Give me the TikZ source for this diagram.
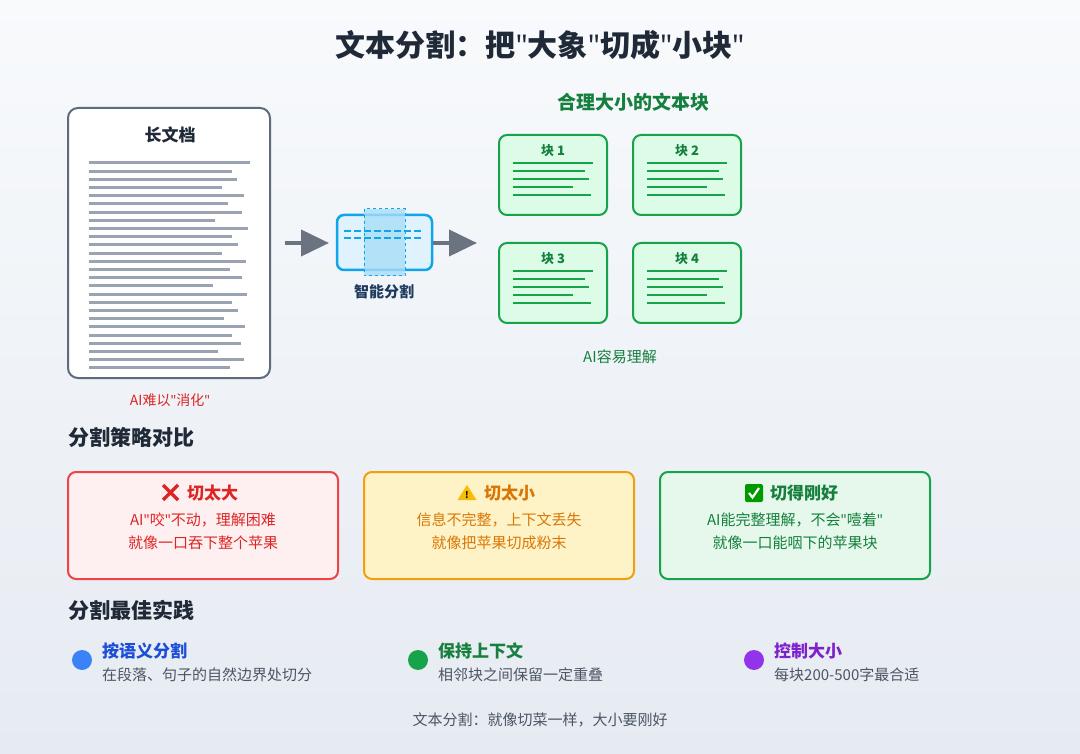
\documentclass[tikz,border=0pt]{standalone}
\usepackage{fontspec}
\setmainfont{Noto Sans CJK SC}
\newfontfamily\latin{Noto Sans}
\newcommand{\qq}{{\latin"}}
\usetikzlibrary{arrows.meta}
\definecolor{bgA}{HTML}{F8FAFC}\definecolor{bgB}{HTML}{E6EBF2}
\definecolor{docg}{HTML}{5F6B7D}\definecolor{lineg}{HTML}{9AA3B2}
\definecolor{arr}{HTML}{6B7280}\definecolor{sky}{HTML}{0EA5E9}
\definecolor{skyl}{HTML}{E0F2FE}\definecolor{skym}{HTML}{A8DDF7}
\definecolor{navy}{HTML}{1E3A5F}\definecolor{gr}{HTML}{16A34A}
\definecolor{grd}{HTML}{15803D}\definecolor{grl}{HTML}{DCFCE7}
\definecolor{rd}{HTML}{EF4444}\definecolor{rdl}{HTML}{FEF0F0}\definecolor{rdt}{HTML}{DC2626}
\definecolor{orr}{HTML}{F59E0B}\definecolor{orl}{HTML}{FEF3C7}\definecolor{ort}{HTML}{D97706}
\definecolor{grc}{HTML}{E6F8EC}
\definecolor{ttl}{HTML}{1F2937}\definecolor{sub}{HTML}{4B5563}
\definecolor{blu}{HTML}{3B82F6}\definecolor{blt}{HTML}{1D4ED8}
\definecolor{pur}{HTML}{9333EA}\definecolor{put}{HTML}{7E22CE}
\tikzset{
 t/.style={inner sep=0pt,font=\fontsize{#1}{#1}\selectfont},
 blk/.style={draw=gr,fill=grl,line width=2pt,rounded corners=8pt},
 card/.style={line width=2pt,rounded corners=8pt},
 gl/.style={gr,line width=2pt},
 dl/.style={lineg,line width=3pt},
}
\begin{document}
\begin{tikzpicture}[x=1pt,y=-1pt]
\shade[top color=bgA,bottom color=bgB] (0,0) rectangle (1080,754);
\useasboundingbox (0,0) rectangle (1080,754);
\node[t=30,text=ttl,font=\bfseries\fontsize{30}{30}\selectfont] (title) at (540,45) {文本分割：把\qq 大象\qq 切成\qq 小块\qq};
% document
\draw[docg,fill=white,line width=2pt,rounded corners=10pt] (68,108) rectangle (270,378);
\node[t=17,text=ttl,font=\bfseries\fontsize{17}{17}\selectfont] (doct) at (170,135) {长文档};
\foreach \i/\l in {0/250,1/232,2/237,3/222,4/244,5/228,6/242,7/215,8/248,9/232,10/238,11/222,12/246,13/230,14/242,15/213,16/247,17/232,18/238,19/224,20/245,21/232,22/241,23/218,24/244,25/230}
  \draw[dl] (89,{163+\i*8.2}) -- (\l,{163+\i*8.2});
\node[t=14,text=rdt] (docl) at (170,400) {AI难以\qq 消化\qq};
% splitter
\node[coordinate] (a1s) at (285,243){};
\node[coordinate] (a1e) at (329,243){};
\draw[arr,line width=4pt,-{Triangle[length=28pt,width=26pt]}] (a1s) -- (a1e);
\draw[sky,fill=skyl,line width=2.5pt,rounded corners=7pt] (337,215) rectangle (432,270);
\draw[sky,fill=skym,fill opacity=0.8,dashed,line width=1pt] (364,209) rectangle (405,276);
\draw[sky,line width=2pt,dash pattern=on 7pt off 3pt] (344,231) -- (424,231);
\draw[sky,line width=2pt,dash pattern=on 7pt off 3pt] (344,238) -- (424,238);
\node[t=15,text=navy,font=\bfseries\fontsize{15}{15}\selectfont] (spl) at (384,292) {智能分割};
\node[coordinate] (a2s) at (433,243){};
\node[coordinate] (a2e) at (477,243){};
\draw[arr,line width=4pt,-{Triangle[length=28pt,width=26pt]}] (a2s) -- (a2e);
% blocks
\node[t=19,text=grd,font=\bfseries\fontsize{19}{19}\selectfont] (bt) at (633,102) {合理大小的文本块};
\foreach \x/\y/\n in {499/135/1,633/135/2,499/243/3,633/243/4}{
  \draw[blk] (\x,\y) rectangle ++(108,80);
  \node[t=13,text=grd,font=\bfseries\fontsize{13}{13}\selectfont] at (\x+54,\y+16) {块 \n};
  \draw[gl] (\x+14,\y+28) -- (\x+94,\y+28);
  \draw[gl] (\x+14,\y+36) -- (\x+86,\y+36);
  \draw[gl] (\x+14,\y+44) -- (\x+90,\y+44);
  \draw[gl] (\x+14,\y+52) -- (\x+74,\y+52);
  \draw[gl] (\x+14,\y+60) -- (\x+92,\y+60);
}
\node[t=15,text=grd] (bl) at (620,357) {AI容易理解};
% strategies
\node[t=21,text=ttl,anchor=west,font=\bfseries\fontsize{21}{21}\selectfont] (s1) at (68,437) {分割策略对比};
\draw[card,draw=rd,fill=rdl] (68,472) rectangle (338,579);
\draw[card,draw=orr,fill=orl] (364,472) rectangle (634,579);
\draw[card,draw=gr,fill=grc] (660,472) rectangle (930,579);
% icons
\draw[rdt,line width=3.4pt] (163,485)--(178,500) (178,485)--(163,500);
\node[t=17,text=rdt,anchor=west,font=\bfseries\fontsize{17}{17}\selectfont] (c1t) at (187,493) {切太大};
\fill[orr!70!yellow] (467,485)--(476.5,500)--(457.5,500)--cycle;
\node[t=9,font=\bfseries\fontsize{9}{9}\selectfont] at (467,495) {!};
\node[t=17,text=ort,anchor=west,font=\bfseries\fontsize{17}{17}\selectfont] (c2t) at (484,493) {切太小};
\fill[green!60!black,rounded corners=2pt] (745,484) rectangle (763,502);
\draw[white,line width=2.2pt] (749,493)--(752.5,497.5)--(759,488);
\node[t=17,text=grd,anchor=west,font=\bfseries\fontsize{17}{17}\selectfont] (c3t) at (770,493) {切得刚好};
\node[t=15,text=rdt,align=center,font=\fontsize{15}{23}\selectfont] (c1) at (203,531) {AI\qq 咬\qq 不动，理解困难\\就像一口吞下整个苹果};
\node[t=15,text=ort,align=center,font=\fontsize{15}{23}\selectfont] (c2) at (499,531) {信息不完整，上下文丢失\\就像把苹果切成粉末};
\node[t=15,text=grd,align=center,font=\fontsize{15}{23}\selectfont] (c3) at (795,531) {AI能完整理解，不会\qq 噎着\qq\\就像一口能咽下的苹果块};
% best practice
\node[t=21,text=ttl,anchor=west,font=\bfseries\fontsize{21}{21}\selectfont] (s2) at (68,610) {分割最佳实践};
\foreach \x/\c/\tc/\a/\b in {82/blu/blt/按语义分割/在段落、句子的自然边界处切分,418/gr/grd/保持上下文/相邻块之间保留一定重叠,754/pur/put/控制大小/每块200-500字最合适}{
  \fill[\c] (\x,660) circle (10);
  \node[t=17,text=\tc,anchor=west,font=\bfseries\fontsize{17}{17}\selectfont] at (\x+20,651) {\a};
  \node[t=15,text=sub,anchor=west] at (\x+20,675) {\b};
}
\node[t=15,text=sub] (foot) at (540,720) {文本分割：就像切菜一样，大小要刚好};
\end{tikzpicture}
\end{document}
